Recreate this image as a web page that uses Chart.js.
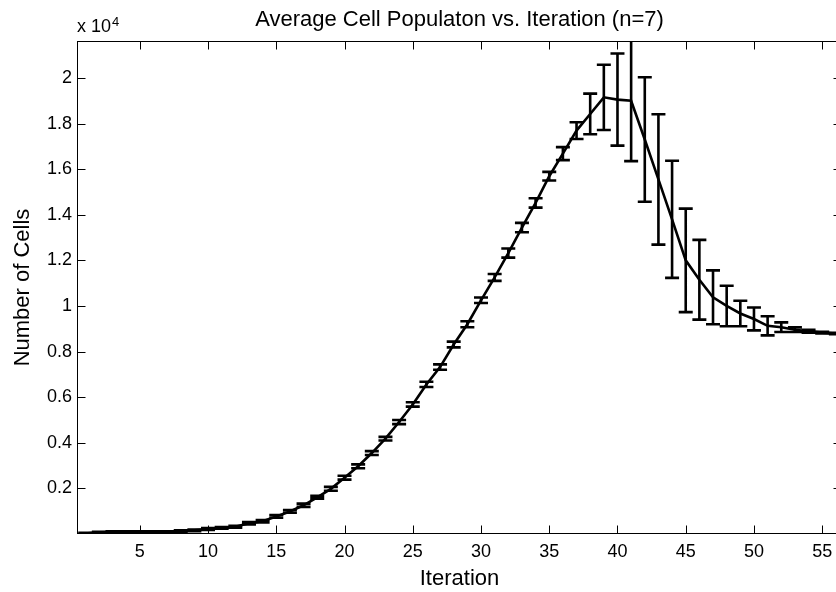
<!DOCTYPE html>
<html>
<head>
<meta charset="utf-8">
<script src="https://cdn.jsdelivr.net/npm/chart.js@4.4.1/dist/chart.umd.min.js"></script>
<style>
  html, body { margin: 0; padding: 0; background: #fff; overflow: hidden; }
</style>
</head>
<body>
<canvas id="grafico" width="850" height="592"></canvas>
<script>
/*------------------------------------------Dados----------------------------------------------*/

const iteracoes = [1, 2, 3, 4, 5, 6, 7, 8, 9, 10, 11, 12, 13, 14, 15, 16, 17, 18, 19, 20,
    21, 22, 23, 24, 25, 26, 27, 28, 29, 30, 31, 32, 33, 34, 35, 36, 37, 38, 39, 40,
    41, 42, 43, 44, 45, 46, 47, 48, 49, 50, 51, 52, 53, 54, 55, 56];

const mediaCelulas = [20, 70, 90, 90, 90, 90, 90, 130, 160, 220,
    270, 320, 470, 560, 770, 990, 1260, 1610, 1980, 2470,
    2970, 3550, 4180, 4910, 5680, 6560, 7320, 8310, 9200, 10250,
    11250, 12320, 13440, 14520, 15690, 16680, 17690, 18420, 19150, 19050,
    19000, 17300, 15550, 13800, 12000, 11150, 10380, 10000, 9670, 9430,
    9130, 9070, 8960, 8890, 8830, 8790];

const erroCelulas = [30, 30, 30, 30, 30, 30, 30, 30, 40, 40,
    40, 40, 50, 50, 60, 60, 70, 60, 85, 85,
    85, 85, 80, 90, 95, 115, 120, 125, 130, 120,
    150, 200, 205, 205, 190, 285, 370, 890, 1430, 2020,
    2650, 2730, 2860, 2570, 2270, 1750, 1180, 890, 560, 500,
    420, 210, 100, 60, 40, 30];

const ticksX = [5, 10, 15, 20, 25, 30, 35, 40, 45, 50, 55];
const ticksY = [2000, 4000, 6000, 8000, 10000, 12000, 14000, 16000, 18000, 20000];

const fonte = '"Liberation Sans", Arial, Helvetica, sans-serif';
Chart.defaults.font.family = fonte;
Chart.defaults.color = '#000';

/*------------------------------------------Barras de erro----------------------------------------------*/

const barrasErro = {
    id: 'barrasErro',
    afterDatasetsDraw(chart) {
        const { ctx, chartArea: a, scales: { x, y } } = chart;
        ctx.save();
        ctx.beginPath();
        ctx.rect(a.left, a.top, a.right - a.left, a.bottom - a.top);
        ctx.clip();
        ctx.strokeStyle = '#000';
        ctx.lineWidth = 2.6;
        ctx.beginPath();
        iteracoes.forEach((it, i) => {
            const px = x.getPixelForValue(it);
            const topo = y.getPixelForValue(mediaCelulas[i] + erroCelulas[i]);
            const base = y.getPixelForValue(mediaCelulas[i] - erroCelulas[i]);
            ctx.moveTo(px, topo); ctx.lineTo(px, base);
            ctx.moveTo(px - 7, topo); ctx.lineTo(px + 7, topo);
            ctx.moveTo(px - 7, base); ctx.lineTo(px + 7, base);
        });
        ctx.stroke();
        ctx.restore();
    }
};

/*------------------------------------------Moldura e ticks----------------------------------------------*/

const moldura = {
    id: 'moldura',
    afterDraw(chart) {
        const { ctx, chartArea: a, scales: { x, y } } = chart;
        const l = a.left + 0.5, r = a.right - 0.5, t = a.top + 0.5, b = a.bottom - 0.5;
        ctx.save();
        ctx.strokeStyle = '#000';
        ctx.lineWidth = 1;
        ctx.strokeRect(l, t, r - l, b - t);
        ctx.beginPath();
        ticksX.forEach(v => {
            const px = Math.round(x.getPixelForValue(v)) + 0.5;
            ctx.moveTo(px, b); ctx.lineTo(px, b - 8);
            ctx.moveTo(px, t); ctx.lineTo(px, t + 8);
        });
        ticksY.forEach(v => {
            const py = Math.round(y.getPixelForValue(v)) + 0.5;
            ctx.moveTo(l, py); ctx.lineTo(l + 8, py);
            ctx.moveTo(r, py); ctx.lineTo(r - 8, py);
        });
        ctx.stroke();

        // multiplicador do eixo y
        ctx.fillStyle = '#000';
        ctx.textBaseline = 'alphabetic';
        ctx.font = '18px ' + fonte;
        ctx.fillText('x 10', a.left, 32);
        const w = ctx.measureText('x 10').width;
        ctx.font = '13px ' + fonte;
        ctx.fillText('4', a.left + w + 1, 26);
        ctx.restore();
    }
};

/*------------------------------------------Gráfico----------------------------------------------*/

let ctx = document.getElementById('grafico').getContext('2d');
let grafico = new Chart(ctx, {
    type: 'line',
    data: {
        labels: iteracoes,
        datasets: [{
            label: 'Average Cell Population',
            data: iteracoes.map((it, i) => ({ x: it, y: mediaCelulas[i] })),
            borderColor: '#000',
            borderWidth: 2.6,
            pointRadius: 0,
            tension: 0,
            fill: false
        }]
    },
    options: {
        responsive: false,
        animation: false,
        devicePixelRatio: 1,
        layout: { padding: { left: 0, right: 8, top: 0, bottom: 0 } },
        plugins: {
            legend: { display: false },
            tooltip: { enabled: false },
            title: {
                display: true,
                text: 'Average Cell Populaton vs. Iteration (n=7)',
                fullSize: false,
                color: '#000',
                font: { size: 22, weight: 'normal' },
                padding: { top: 6.8, bottom: 7.8 }
            }
        },
        scales: {
            x: {
                type: 'linear',
                min: 0.4,
                max: 56.45,
                grid: { display: false, drawTicks: false },
                border: { display: false },
                afterBuildTicks: s => { s.ticks = ticksX.map(v => ({ value: v })); },
                afterFit: s => { s.height = 58; },
                ticks: { padding: 7, font: { size: 18 }, color: '#000' },
                title: {
                    display: true,
                    text: 'Iteration',
                    color: '#000',
                    font: { size: 22 },
                    padding: { top: 0, bottom: 0 }
                }
            },
            y: {
                min: 0,
                max: 21620,
                grid: { display: false, drawTicks: false },
                border: { display: false },
                afterBuildTicks: s => { s.ticks = ticksY.map(v => ({ value: v })); },
                afterFit: s => { s.width = 77; },
                ticks: {
                    padding: 5,
                    font: { size: 18 },
                    color: '#000',
                    callback: v => String(+(v / 10000).toFixed(1))
                },
                title: {
                    display: true,
                    text: 'Number of Cells',
                    color: '#000',
                    font: { size: 22 },
                    padding: { top: 9.3, bottom: 0 }
                }
            }
        }
    },
    plugins: [barrasErro, moldura]
});
</script>
</body>
</html>
